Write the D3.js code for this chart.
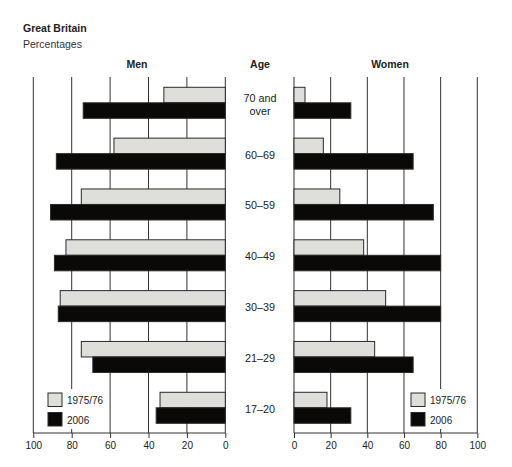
<!DOCTYPE html>
<html><head><meta charset="utf-8">
<script src="https://cdn.jsdelivr.net/npm/d3@7"></script>
<style>body{margin:0;background:#fff}svg{display:block;font-family:"Liberation Sans",Arial,sans-serif}</style>
</head><body><svg id="c" width="512" height="467"></svg>
<script>
const ages = ["70 and over","60–69","50–59","40–49","30–39","21–29","17–20"];
const series = ["1975/76","2006"];
const men1975 = [32,58,75,83,86,75,34];
const men2006 = [74,88,91,89,87,69,36];
const women1975 = [6,16,25,38,50,44,18];
const women2006 = [31,65,76,80,80,65,31];
const ticks = [0,20,40,60,80,100];

const svg = d3.select("#c");
const fills = {"1975/76":"#dededa","2006":"#0b0908"};
const ink = "#222";

const xL = d3.scaleLinear().domain([0,100]).range([225.3,33.3]);
const xR = d3.scaleLinear().domain([0,100]).range([294,477.3]);
const y = d3.scaleBand().domain(ages).range([87.3,423.3]).paddingInner(0.39).paddingOuter(0);
const ys = d3.scaleBand().domain(series).range([0,y.bandwidth()]);
const gridTop = 77, axisY = 433;

svg.append("text").attr("x",23).attr("y",32).attr("font-size",10.5).attr("font-weight","bold").attr("fill",ink).text("Great Britain");
svg.append("text").attr("x",23).attr("y",48).attr("font-size",10.5).attr("fill","#333").text("Percentages");
svg.append("text").attr("x",137).attr("y",68).attr("font-size",10.5).attr("font-weight","bold").attr("text-anchor","middle").attr("fill",ink).text("Men");
svg.append("text").attr("x",260).attr("y",68).attr("font-size",10.5).attr("font-weight","bold").attr("text-anchor","middle").attr("fill",ink).text("Age");
svg.append("text").attr("x",390).attr("y",68).attr("font-size",10.5).attr("font-weight","bold").attr("text-anchor","middle").attr("fill",ink).text("Women");

// gridlines
[xL,xR].forEach(sc=>{
  svg.append("g").selectAll("line").data(ticks).join("line")
    .attr("x1",d=>sc(d)).attr("x2",d=>sc(d)).attr("y1",gridTop).attr("y2",axisY)
    .attr("stroke","#333").attr("stroke-width",1);
});

function bars(sc, a, b){
  const data = ages.map((g,i)=>[{g,s:"1975/76",v:a[i]},{g,s:"2006",v:b[i]}]).flat();
  svg.append("g").selectAll("rect").data(data).join("rect")
    .attr("x",d=>Math.min(sc(0),sc(d.v)))
    .attr("width",d=>Math.abs(sc(d.v)-sc(0)))
    .attr("y",d=>y(d.g)+ys(d.s))
    .attr("height",ys.bandwidth())
    .attr("fill",d=>fills[d.s]).attr("stroke","#2a2a2a").attr("stroke-width",1);
}
bars(xL,men1975,men2006);
bars(xR,women1975,women2006);

// age labels
ages.forEach(g=>{
  const cy = y(g)+y.bandwidth()/2;
  const t = svg.append("text").attr("text-anchor","middle").attr("font-size",10.8).attr("fill",ink);
  if(g==="70 and over"){
    t.append("tspan").attr("x",260).attr("y",cy-1).text("70 and");
    t.append("tspan").attr("x",260).attr("y",cy+12).text("over");
  } else {
    t.attr("x",260).attr("y",cy+5).text(g);
  }
});

// axes
const axL = d3.axisBottom(xL).tickValues(ticks).tickSize(5).tickPadding(4);
const axR = d3.axisBottom(xR).tickValues(ticks).tickSize(5).tickPadding(4);
[axL,axR].forEach(ax=>{
  const g = svg.append("g").attr("transform",`translate(0,${axisY})`).call(ax);
  g.select(".domain").attr("stroke","#333").attr("d",null);
  g.selectAll(".tick line").attr("stroke","#333");
  g.selectAll(".tick text").attr("font-size",10).attr("fill",ink).attr("font-family","Liberation Sans,Arial,sans-serif");
});
[xL,xR].forEach(sc=>{
  svg.append("line").attr("x1",sc.range()[0]).attr("x2",sc.range()[1]).attr("y1",axisY).attr("y2",axisY).attr("stroke","#333");
});

// legends
function legend(x0){
  svg.append("rect").attr("x",x0-4).attr("y",389).attr("width",64).attr("height",40).attr("fill","#fff");
  series.forEach((s,i)=>{
    svg.append("rect").attr("x",x0).attr("y",393+i*19.5).attr("width",14).attr("height",13.5)
      .attr("fill",fills[s]).attr("stroke","#2a2a2a");
    svg.append("text").attr("x",x0+19).attr("y",404+i*19.5).attr("font-size",10).attr("fill",ink).text(s);
  });
}
legend(48);
legend(411);
</script></body></html>
